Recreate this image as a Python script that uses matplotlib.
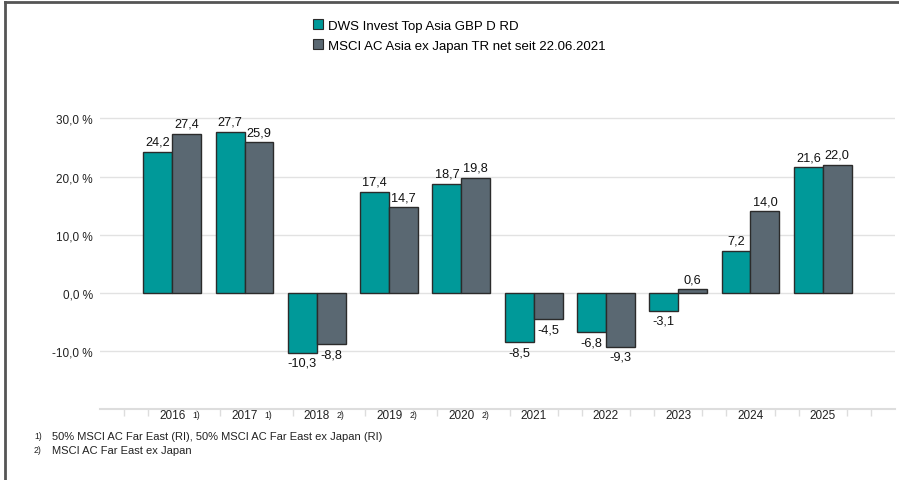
import matplotlib.pyplot as plt
import matplotlib.lines as mlines
import numpy as np

plt.rcParams['font.family'] = ['Liberation Sans', 'DejaVu Sans']

years = ['2016', '2017', '2018', '2019', '2020', '2021', '2022', '2023', '2024', '2025']
notes = ['1)', '1)', '2)', '2)', '2)', '', '', '', '', '']
fund = [24.2, 27.7, -10.3, 17.4, 18.7, -8.5, -6.8, -3.1, 7.2, 21.6]
bench = [27.4, 25.9, -8.8, 14.7, 19.8, -4.5, -9.3, 0.6, 14.0, 22.0]
fund_name = 'DWS Invest Top Asia GBP D RD'
bench_name = 'MSCI AC Asia ex Japan TR net seit 22.06.2021'
footnotes = ['50% MSCI AC Far East (RI), 50% MSCI AC Far East ex Japan (RI)',
             'MSCI AC Far East ex Japan']

teal = '#009999'
grey = '#5a6872'

fig = plt.figure(figsize=(8.99, 4.81), dpi=100)
W, H = 899, 481
# axes: x 100..895 px, y bottom 410 px
ax = fig.add_axes([100 / W, 1 - 410 / H, 795 / W, (410 - 102) / H])

x = np.arange(len(years))
bw = 0.40
ax.bar(x - bw / 2, fund, bw, color=teal, edgecolor='#2b2b2b', linewidth=1.0, zorder=3)
ax.bar(x + bw / 2, bench, bw, color=grey, edgecolor='#2b2b2b', linewidth=1.0, zorder=3)

for xi, v in zip(x, fund):
    ax.annotate(f'{v:.1f}'.replace('.', ','), (xi - bw / 2, v),
                xytext=(0, 3 if v >= 0 else -3), textcoords='offset points',
                ha='center', va='bottom' if v >= 0 else 'top', fontsize=9.2, color='#111111')
for xi, v in zip(x, bench):
    ax.annotate(f'{v:.1f}'.replace('.', ','), (xi + bw / 2, v),
                xytext=(0, 3 if v >= 0 else -3), textcoords='offset points',
                ha='center', va='bottom' if v >= 0 else 'top', fontsize=9.2, color='#111111')

ax.set_xlim(-1, 10)
ax.set_ylim(-20, 33)
ax.set_yticks([-10, 0, 10, 20, 30])
ax.set_yticklabels([f'{t:.1f} %'.replace('.', ',') for t in [-10, 0, 10, 20, 30]],
                   fontsize=8.5, color='#222222')
ax.tick_params(axis='y', length=0, pad=5)
ax.grid(axis='y', color='#e2e2e2', linewidth=1.0, zorder=0)

minor = [k / 3 for k in range(-3, 31) if k % 3 != 0]
ax.set_xticks(minor, minor=True)
ax.set_xticks(x)
ax.set_xticklabels([])
ax.tick_params(axis='x', which='major', length=0)
ax.tick_params(axis='x', which='minor', length=5, color='#dddddd', width=1.0)

for s in ['top', 'right', 'left']:
    ax.spines[s].set_visible(False)
ax.spines['bottom'].set_color('#dddddd')
ax.spines['bottom'].set_linewidth(1.5)

for xi, yr, nt in zip(x, years, notes):
    ax.text(xi, -20, yr, transform=ax.transData, ha='center', va='top', fontsize=8.5,
            color='#222222')
    if nt:
        ax.annotate(nt, (xi, -20), xytext=(14.5, -1), textcoords='offset points',
                    ha='left', va='top', fontsize=6.2, color='#222222')

# legend
h1 = mlines.Line2D([], [], marker='s', linestyle='none', markersize=7.5,
                   markerfacecolor=teal, markeredgecolor='#2b2b2b', markeredgewidth=0.8)
h2 = mlines.Line2D([], [], marker='s', linestyle='none', markersize=7.5,
                   markerfacecolor=grey, markeredgecolor='#2b2b2b', markeredgewidth=0.8)
fig.legend([h1, h2], [fund_name, bench_name], loc='upper left',
           bbox_to_anchor=(298 / W, 1 - 9 / H), frameon=False, fontsize=9.5,
           handletextpad=0.2, labelspacing=0.55, handlelength=1.2)

# footnotes
for i, (nt, txt) in enumerate(zip(['1)', '2)'], footnotes)):
    yy = 1 - (437 + 14 * i) / H
    fig.text(34 / W, yy, nt, fontsize=6.2, va='center', ha='left', color='#222222')
    fig.text(52 / W, yy, txt, fontsize=8, va='center', ha='left', color='#222222')

# outer frame lines
fig.add_artist(mlines.Line2D([5 / W, 5 / W], [0, 1 - 3 / H], color='#555555', linewidth=2))
fig.add_artist(mlines.Line2D([5 / W, 1], [1 - 3 / H, 1 - 3 / H], color='#555555', linewidth=2))

fig.savefig('out.png', dpi=100)
